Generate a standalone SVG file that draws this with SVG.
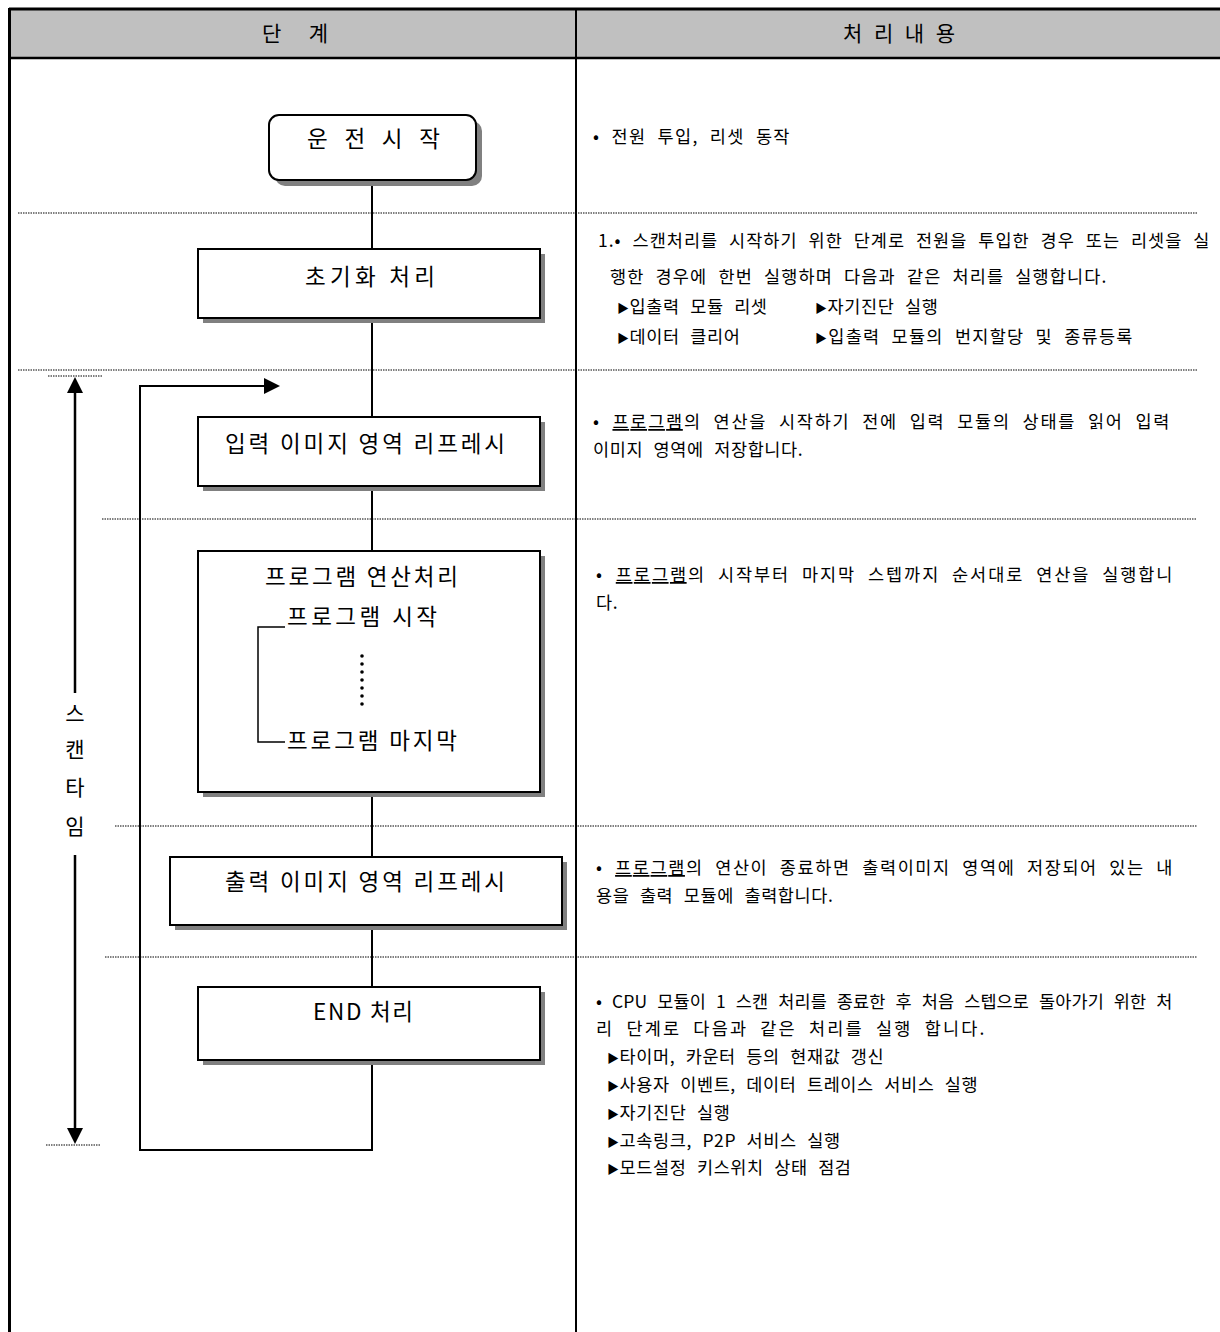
<svg xmlns="http://www.w3.org/2000/svg" width="1220" height="1332" viewBox="0 0 1220 1332">
<style>
text{font-family:"Noto Sans CJK KR","Noto Sans",sans-serif;fill:#000}
.hd{font-size:21px}
.lb{font-size:22.5px}
.rt{font-size:17.5px;letter-spacing:0.6px;word-spacing:6px}
.tri{font-size:12px}
.vt{font-size:21px;text-anchor:middle}
.box{fill:#fff;stroke:#000;stroke-width:2}
.sh{fill:#808080}
.dot{stroke:#000;stroke-width:1;stroke-dasharray:1.5 1;fill:none}
.ln{stroke:#000;stroke-width:2;fill:none}
.ul{text-decoration:underline}
</style>
<defs>
<marker id="ah" markerUnits="userSpaceOnUse" markerWidth="16" markerHeight="16" viewBox="0 0 16 16" refX="0" refY="8" orient="auto">
<path d="M0,0 L16,8 L0,16 z" fill="#000"/>
</marker>
</defs>
<rect width="1220" height="1332" fill="#fff"/>
<g id="table">
<rect x="9" y="9" width="1211" height="49" fill="#c0c0c0"/>
<line x1="9" y1="9" x2="1220" y2="9" stroke="#000" stroke-width="3"/>
<line x1="9" y1="58" x2="1220" y2="58" stroke="#000" stroke-width="2.5"/>
<line x1="9.5" y1="8" x2="9.5" y2="1332" stroke="#000" stroke-width="3"/>
<line x1="576" y1="9" x2="576" y2="1332" stroke="#000" stroke-width="2"/>
<text class="hd" x="262" y="41" textLength="66" lengthAdjust="spacing">단 계</text>
<text class="hd" x="843" y="41" textLength="112" lengthAdjust="spacing">처 리 내 용</text>
</g>
<g id="separators">
<line class="dot" x1="18" y1="213" x2="1197" y2="213"/>
<line class="dot" x1="18" y1="370" x2="1197" y2="370"/>
<line class="dot" x1="48" y1="376" x2="102" y2="376"/>
<line class="dot" x1="102" y1="519" x2="1197" y2="519"/>
<line class="dot" x1="115" y1="826" x2="1197" y2="826"/>
<line class="dot" x1="105" y1="957" x2="1197" y2="957"/>
<line class="dot" x1="46" y1="1145" x2="100" y2="1145"/>
</g>
<g id="connectors">
<line class="ln" x1="372" y1="180" x2="372" y2="249"/>
<line class="ln" x1="372" y1="318" x2="372" y2="417"/>
<line class="ln" x1="372" y1="486" x2="372" y2="551"/>
<line class="ln" x1="372" y1="792" x2="372" y2="857"/>
<line class="ln" x1="372" y1="925" x2="372" y2="987"/>
<path class="ln" d="M372,1060 V1150 H140 V386 H264" marker-end="url(#ah)"/>
<line x1="75" y1="693" x2="75" y2="393" stroke="#000" stroke-width="2.5" marker-end="url(#ah)"/>
<line x1="75" y1="855" x2="75" y2="1128" stroke="#000" stroke-width="2.5" marker-end="url(#ah)"/>
</g>
<g id="scan-time">
<text class="vt" x="75" y="721">스</text>
<text class="vt" x="75" y="757">캔</text>
<text class="vt" x="75" y="795">타</text>
<text class="vt" x="75" y="834">임</text>
</g>
<g id="node-start">
<rect class="sh" x="275" y="121" width="207" height="65" rx="10"/>
<rect class="box" x="269" y="115" width="207" height="65" rx="10"/>
<text class="lb" x="307" y="147" textLength="133" lengthAdjust="spacing">운 전 시 작</text>
</g>
<g id="node-init">
<rect class="sh" x="203" y="254" width="342" height="69"/>
<rect class="box" x="198" y="249" width="342" height="69"/>
<text class="lb" x="305" y="285" textLength="130" lengthAdjust="spacing">초기화 처리</text>
</g>
<g id="node-input">
<rect class="sh" x="203" y="422" width="342" height="69"/>
<rect class="box" x="198" y="417" width="342" height="69"/>
<text class="lb" x="225" y="452" textLength="280" lengthAdjust="spacing">입력 이미지 영역 리프레시</text>
</g>
<g id="node-program">
<rect class="sh" x="203" y="556" width="342" height="241"/>
<rect class="box" x="198" y="551" width="342" height="241"/>
<text class="lb" x="265" y="585" textLength="193" lengthAdjust="spacing">프로그램 연산처리</text>
<text class="lb" x="287" y="625" textLength="150" lengthAdjust="spacing">프로그램 시작</text>
<text class="lb" x="287" y="749" textLength="170" lengthAdjust="spacing">프로그램 마지막</text>
<path d="M285,627 H258 V742 H285" fill="none" stroke="#000" stroke-width="1.5"/>
<g fill="#000">
<circle cx="362" cy="656" r="1.8"/><circle cx="362" cy="664" r="1.8"/><circle cx="362" cy="672" r="1.8"/><circle cx="362" cy="680" r="1.8"/><circle cx="362" cy="688" r="1.8"/><circle cx="362" cy="696" r="1.8"/><circle cx="362" cy="704" r="1.8"/>
</g>
</g>
<g id="node-output">
<rect class="sh" x="175" y="862" width="392" height="68"/>
<rect class="box" x="170" y="857" width="392" height="68"/>
<text class="lb" x="225" y="890" textLength="280" lengthAdjust="spacing">출력 이미지 영역 리프레시</text>
</g>
<g id="node-end">
<rect class="sh" x="203" y="992" width="342" height="73"/>
<rect class="box" x="198" y="987" width="342" height="73"/>
<text class="lb" x="313" y="1020" textLength="100" lengthAdjust="spacing">END 처리</text>
</g>
<g id="descriptions">
<text class="rt" x="593" y="143" textLength="197" lengthAdjust="spacing">• 전원 투입, 리셋 동작</text>
<text class="rt" x="598" y="247" textLength="612" lengthAdjust="spacing">1.• 스캔처리를 시작하기 위한 단계로 전원을 투입한 경우 또는 리셋을 실</text>
<text class="rt" x="610" y="283" textLength="497" lengthAdjust="spacing">행한 경우에 한번 실행하며 다음과 같은 처리를 실행합니다.</text>
<text class="rt" x="617" y="313"><tspan class="tri">▶</tspan>입출력 모듈 리셋</text>
<text class="rt" x="815" y="313"><tspan class="tri">▶</tspan>자기진단 실행</text>
<text class="rt" x="617" y="343"><tspan class="tri">▶</tspan>데이터 클리어</text>
<text class="rt" x="815" y="343" textLength="318" lengthAdjust="spacing"><tspan class="tri">▶</tspan>입출력 모듈의 번지할당 및 종류등록</text>
<text class="rt" x="593" y="428" textLength="577" lengthAdjust="spacing">• <tspan class="ul">프로그램</tspan>의 연산을 시작하기 전에 입력 모듈의 상태를 읽어 입력</text>
<text class="rt" x="593" y="456">이미지 영역에 저장합니다.</text>
<text class="rt" x="596" y="581" textLength="577" lengthAdjust="spacing">• <tspan class="ul">프로그램</tspan>의 시작부터 마지막 스텝까지 순서대로 연산을 실행합니</text>
<text class="rt" x="596" y="609">다.</text>
<text class="rt" x="596" y="874" textLength="577" lengthAdjust="spacing">• <tspan class="ul">프로그램</tspan>의 연산이 종료하면 출력이미지 영역에 저장되어 있는 내</text>
<text class="rt" x="596" y="902">용을 출력 모듈에 출력합니다.</text>
<text class="rt" x="596" y="1008" textLength="577" lengthAdjust="spacing">• CPU 모듈이 1 스캔 처리를 종료한 후 처음 스텝으로 돌아가기 위한 처</text>
<text class="rt" x="596" y="1035" textLength="389" lengthAdjust="spacing">리 단계로 다음과 같은 처리를 실행 합니다.</text>
<text class="rt" x="607" y="1063"><tspan class="tri">▶</tspan>타이머, 카운터 등의 현재값 갱신</text>
<text class="rt" x="607" y="1091"><tspan class="tri">▶</tspan>사용자 이벤트, 데이터 트레이스 서비스 실행</text>
<text class="rt" x="607" y="1119"><tspan class="tri">▶</tspan>자기진단 실행</text>
<text class="rt" x="607" y="1147"><tspan class="tri">▶</tspan>고속링크, P2P 서비스 실행</text>
<text class="rt" x="607" y="1174"><tspan class="tri">▶</tspan>모드설정 키스위치 상태 점검</text>
</g>
</svg>
